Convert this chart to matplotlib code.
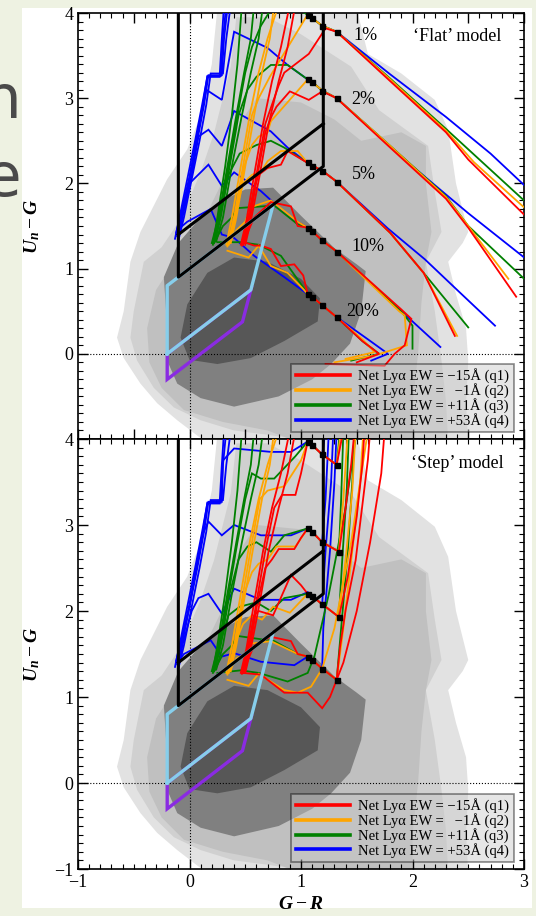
import numpy as np
import matplotlib.pyplot as plt
from matplotlib.patches import Polygon, Rectangle
from matplotlib.lines import Line2D
from matplotlib.ticker import MultipleLocator

plt.rcParams.update({
    "font.family": "Liberation Serif",
    "mathtext.fontset": "custom",
    "mathtext.rm": "Liberation Serif",
    "mathtext.it": "Liberation Serif:italic:bold",
    "mathtext.bf": "Liberation Serif:bold",
    "xtick.direction": "in", "ytick.direction": "in",
    "xtick.top": True, "ytick.right": True,
    "xtick.major.size": 7, "ytick.major.size": 7,
    "xtick.minor.size": 3.5, "ytick.minor.size": 3.5,
    "xtick.major.width": 1.0, "ytick.major.width": 1.0,
    "xtick.minor.width": 0.8, "ytick.minor.width": 0.8,
    "axes.linewidth": 1.2,
})

# ---- density contours of the photometric sample (G-R, Un-G) ----
LEVEL_COLORS = ["#e2e2e2", "#d0d0d0", "#c0c0c0", "#808080", "#575757"]
C1_X = [0.25, 0.2, 0.1, -0.02, -0.2, -0.32, -0.44, -0.53, -0.59, -0.65, -0.59, -0.44, -0.29, -0.11, 0.04, 0.16,
        2.5, 2.48, 2.5, 2.48, 2.39, 2.32, 2.45, 2.5, 2.39, 2.32, 2.2, 1.9, 1.6, 1.5]
C1_Y = [4.05, 3.4, 2.8, 2.4, 2.05, 1.74, 1.43, 1.08, 0.5, 0.19, -0.05, -0.35, -0.58, -0.78, -0.93, -1.05,
        -1.05, -0.58, -0.08, 0.3, 0.7, 1.08, 1.3, 1.43, 2.0, 2.63, 2.98, 3.29, 3.52, 4.05]
C2_X = [0.42, 0.37, 0.22, 0.1, -0.08, -0.25, -0.41, -0.5, -0.53, -0.47, -0.32, -0.14, 0.1, 0.4, 0.7, 1.2,
        2.32, 2.3, 2.26, 2.2, 2.12, 2.26, 2.2, 2.14, 1.7, 1.45, 1.0, 0.7]
C2_Y = [3.95, 3.37, 2.59, 2.13, 1.58, 1.25, 1.08, 0.5, 0.19, -0.08, -0.4, -0.63, -0.78, -0.9, -0.95, -1.05,
        -1.05, -0.55, -0.08, 0.5, 1.08, 1.43, 1.9, 2.44, 2.86, 3.37, 3.75, 3.95]
C3_X = [0.6, 0.4, 0.28, 0.1, -0.1, -0.3, -0.38, -0.36, -0.25, -0.05, 0.3, 0.7, 1.0, 2.0, 2.0, 2.05, 2.08,
        2.12, 2.17, 2.12, 2.12, 1.9, 1.54, 1.3, 1.0]
C3_Y = [3.0, 2.6, 1.98, 1.5, 1.15, 0.75, 0.3, -0.1, -0.4, -0.66, -0.8, -0.9, -1.05, -1.05, -0.6, 0.0, 0.6,
        1.08, 1.43, 2.0, 2.44, 2.6, 2.5, 2.75, 2.95]
C4_X = [-0.23, -0.1, 0.1, 0.3, 0.5, 0.75, 1.0, 1.3, 1.5, 1.58, 1.54, 1.44, 1.27, 1.1, 0.8, 0.4, 0.1, -0.11,
        -0.2, -0.21]
C4_Y = [0.9, 1.3, 1.6, 1.8, 1.93, 1.95, 1.62, 1.24, 1.05, 0.97, 0.5, 0.12, -0.12, -0.3, -0.5, -0.62, -0.52,
        -0.35, -0.08, 0.5]
C5_X = [0.16, 0.4, 0.7, 1.0, 1.17, 1.15, 0.85, 0.55, 0.25, 0.0, -0.08, -0.02]
C5_Y = [0.95, 1.13, 1.08, 0.88, 0.65, 0.38, 0.15, -0.05, -0.12, -0.07, 0.19, 0.58]

# ---- colour-selection windows ----
LBG_X = [-0.1, -0.1, 1.2, 1.2]
LBG_Y = [4.1, 0.9, 2.2, 4.1]
LBG_CUT_X = [-0.1, 1.2]
LBG_CUT_Y = [1.4, 2.7]
BX_X = [-0.2, 0.55, 0.75, -0.2, -0.2]
BX_Y = [0.0, 0.75, 1.75, 0.8, 0.0]
BM_X = [-0.2, -0.2, 0.475, 0.55, -0.2]
BM_Y = [0.0, -0.3, 0.375, 0.75, 0.0]

# ---- redshift markers (black squares) ----
SQ_X = [1.06, 1.1, 1.19, 1.32]
FLAT_SQ_Y = [[3.98, 3.94, 3.85, 3.78], [3.22, 3.19, 3.09, 3.0], [2.25, 2.21, 2.15, 2.02],
             [1.48, 1.44, 1.33, 1.2], [0.7, 0.67, 0.57, 0.43]]
STEP_SQ_X = [[1.06, 1.1, 1.19, 1.32], [1.06, 1.1, 1.19, 1.34], [1.06, 1.1, 1.19, 1.34], [1.06, 1.1, 1.19, 1.32]]
STEP_SQ_Y = [[3.97, 3.93, 3.82, 3.7], [2.96, 2.92, 2.8, 2.69], [2.2, 2.17, 2.08, 1.93], [1.47, 1.43, 1.33, 1.2]]

FRAC_LABELS = ["1%", "2%", "5%", "10%", "20%"]

# ---- bundles shared by both models ----
BUNDLE_BLUE = [([-0.13, -0.09, -0.02, 0.05, 0.11, 0.16, 0.27, 0.29, 0.31], [1.35, 1.6, 2.05, 2.5, 2.9, 3.25, 3.25, 3.7, 4.1]),
               ([-0.1, -0.05, 0.02, 0.09, 0.15, 0.19, 0.3, 0.33, 0.37], [1.33, 1.6, 2.05, 2.5, 2.92, 3.29, 3.29, 3.7, 4.1]),
               ([-0.12, -0.07, 0.0, 0.06, 0.12, 0.16, 0.28, 0.3, 0.33], [1.4, 1.62, 2.05, 2.5, 2.92, 3.26, 3.26, 3.7, 4.1])]
BUNDLE_GREEN = [([0.2, 0.26, 0.34, 0.42, 0.49, 0.55, 0.58], [1.3, 1.6, 2.2, 2.8, 3.3, 3.7, 4.1]),
                ([0.24, 0.3, 0.38, 0.47, 0.55, 0.62, 0.66], [1.32, 1.6, 2.2, 2.8, 3.3, 3.7, 4.1]),
                ([0.21, 0.25, 0.32, 0.38, 0.43, 0.47], [1.3, 1.6, 2.2, 2.8, 3.4, 4.1])]
BUNDLE_ORANGE = [([0.33, 0.38, 0.46, 0.54, 0.62, 0.7, 0.8], [1.28, 1.6, 2.2, 2.8, 3.3, 3.7, 4.1]),
                 ([0.37, 0.42, 0.5, 0.58, 0.65, 0.72, 0.76], [1.3, 1.6, 2.2, 2.8, 3.3, 3.7, 4.1])]
BUNDLE_RED = [([0.46, 0.51, 0.58, 0.66, 0.74, 0.82, 0.9], [1.28, 1.56, 2.1, 2.7, 3.2, 3.6, 4.1]),
              ([0.5, 0.55, 0.63, 0.71, 0.8, 0.88, 0.95], [1.28, 1.56, 2.1, 2.7, 3.2, 3.6, 4.1])]

# ---- 'Flat' model tracks (1%, 2%, 5%, 10%, 20%) ----
FLAT_BLUE = [
    ([-0.11, -0.07, 0.0, 0.07, 0.13, 0.17, 0.29, 0.31, 0.34, 0.6, 0.98, 1.06, 1.1, 1.19, 1.32, 1.8, 2.3, 2.7, 3.05],
     [1.38, 1.6, 2.05, 2.5, 2.92, 3.27, 3.27, 3.7, 4.05, 4.6, 4.1, 3.98, 3.94, 3.85, 3.78, 3.28, 2.78, 2.35, 1.92]),
    ([-0.12, -0.08, 0.0, 0.07, 0.12, 0.15, 0.29, 0.4, 0.7, 0.88, 1.06, 1.1, 1.19, 1.32, 2.0, 2.5, 3.05],
     [1.42, 1.62, 2.08, 2.55, 2.9, 3.1, 2.98, 3.78, 3.59, 3.39, 3.22, 3.19, 3.09, 3.0, 2.2, 1.65, 1.08]),
    ([-0.1, -0.06, 0.02, 0.08, 0.17, 0.29, 0.4, 0.73, 0.88, 1.06, 1.1, 1.19, 1.32, 1.78, 2.11, 2.4, 2.74],
     [1.36, 1.62, 2.1, 2.55, 2.63, 2.44, 2.85, 2.61, 2.42, 2.24, 2.21, 2.15, 2.02, 1.47, 1.11, 0.75, 0.33]),
    ([-0.11, -0.06, 0.0, 0.17, 0.29, 0.4, 0.64, 0.9, 1.06, 1.1, 1.19, 1.32, 1.8, 2.25],
     [1.4, 1.65, 2.0, 2.22, 1.97, 2.13, 1.91, 1.6, 1.48, 1.44, 1.33, 1.2, 0.62, 0.08]),
    ([-0.11, -0.02, 0.19, 0.29, 0.4, 0.58, 0.85, 1.06, 1.1, 1.19, 1.32, 1.6, 1.78, 1.63],
     [1.45, 1.55, 1.7, 1.4, 1.36, 1.15, 0.9, 0.7, 0.67, 0.57, 0.43, 0.17, 0.0, -0.08]),
]
FLAT_GREEN = [
    ([0.22, 0.27, 0.35, 0.43, 0.5, 0.56, 0.64, 0.72, 0.95, 1.06, 1.1, 1.19, 1.32, 1.8, 2.3, 2.6, 3.05],
     [1.3, 1.6, 2.2, 2.8, 3.3, 3.6, 3.85, 4.02, 4.06, 3.98, 3.94, 3.85, 3.78, 3.23, 2.64, 2.28, 1.74]),
    ([0.23, 0.28, 0.36, 0.44, 0.52, 0.6, 0.73, 0.88, 1.06, 1.1, 1.19, 1.32, 1.8, 2.3, 2.5, 3.05],
     [1.32, 1.6, 2.2, 2.8, 3.1, 3.25, 3.39, 3.39, 3.22, 3.19, 3.09, 3.0, 2.44, 1.85, 1.5, 0.82]),
    ([0.21, 0.27, 0.35, 0.45, 0.6, 0.73, 0.85, 1.06, 1.1, 1.19, 1.32, 1.8, 2.1, 2.5],
     [1.28, 1.6, 2.1, 2.35, 2.45, 2.5, 2.42, 2.24, 2.21, 2.15, 2.02, 1.42, 0.95, 0.31]),
    ([0.22, 0.3, 0.38, 0.43, 0.76, 0.97, 1.06, 1.1, 1.19, 1.32, 1.9, 2.0, 2.0],
     [1.3, 1.5, 1.6, 1.71, 1.74, 1.52, 1.48, 1.44, 1.33, 1.2, 0.5, 0.33, 0.06]),
    ([0.25, 0.46, 0.62, 0.82, 1.02, 1.06, 1.1, 1.19, 1.32, 1.55, 1.7, 1.45],
     [1.31, 1.31, 1.28, 1.15, 0.78, 0.7, 0.67, 0.57, 0.43, 0.15, 0.0, -0.08]),
]
FLAT_ORANGE = [
    ([0.35, 0.4, 0.48, 0.56, 0.62, 0.66, 0.72, 1.04, 1.06, 1.1, 1.19, 1.32, 1.8, 2.3, 2.55, 3.05],
     [1.28, 1.6, 2.2, 2.8, 3.0, 3.1, 3.25, 3.94, 3.98, 3.94, 3.85, 3.78, 3.22, 2.62, 2.25, 1.66]),
    ([0.36, 0.41, 0.49, 0.56, 0.62, 0.7, 0.73, 1.06, 1.1, 1.19, 1.32, 1.8, 2.3, 2.5, 2.86],
     [1.3, 1.6, 2.2, 2.45, 2.55, 2.6, 2.73, 3.22, 3.19, 3.09, 3.0, 2.44, 1.84, 1.5, 0.88]),
    ([0.34, 0.4, 0.48, 0.56, 0.65, 0.7, 0.82, 0.97, 1.06, 1.1, 1.19, 1.32, 1.8, 2.1, 2.4],
     [1.26, 1.6, 2.0, 2.1, 2.15, 2.26, 2.38, 2.38, 2.24, 2.21, 2.15, 2.02, 1.42, 0.95, 0.21]),
    ([0.35, 0.42, 0.5, 0.55, 0.73, 0.97, 1.06, 1.1, 1.19, 1.32, 1.88, 1.93, 1.95, 1.66, 1.3],
     [1.28, 1.45, 1.55, 1.72, 1.8, 1.55, 1.48, 1.44, 1.33, 1.2, 0.5, 0.45, 0.1, -0.02, -0.1]),
    ([0.34, 0.53, 0.62, 0.73, 0.88, 1.02, 1.06, 1.1, 1.19, 1.32, 1.55, 1.66, 1.4],
     [1.21, 1.13, 1.27, 1.03, 0.95, 0.76, 0.7, 0.67, 0.57, 0.43, 0.17, 0.02, -0.06]),
]
FLAT_RED = [
    ([0.48, 0.53, 0.6, 0.68, 0.76, 0.8, 0.85, 1.07, 1.22, 1.32, 1.8, 2.3, 2.5, 3.05],
     [1.28, 1.56, 2.1, 2.7, 3.0, 3.15, 3.3, 3.52, 3.82, 3.78, 3.2, 2.6, 2.28, 1.57]),
    ([0.49, 0.54, 0.61, 0.68, 0.74, 0.78, 0.9, 1.07, 1.19, 1.32, 1.8, 2.3, 2.5, 2.93],
     [1.3, 1.56, 2.1, 2.6, 2.8, 2.9, 3.08, 2.98, 3.08, 3.0, 2.42, 1.82, 1.48, 0.67]),
    ([0.47, 0.52, 0.58, 0.62, 0.7, 0.82, 0.88, 1.06, 1.1, 1.19, 1.32, 1.8, 2.1, 2.38],
     [1.27, 1.56, 1.95, 2.1, 2.18, 2.22, 2.38, 2.24, 2.21, 2.15, 2.02, 1.42, 0.95, 0.21]),
    ([0.48, 0.53, 0.58, 0.73, 0.91, 0.97, 1.06, 1.1, 1.19, 1.32, 1.9, 1.99, 1.93, 1.84, 1.75, 1.22],
     [1.28, 1.45, 1.6, 1.78, 1.73, 1.5, 1.48, 1.44, 1.33, 1.2, 0.52, 0.41, 0.1, 0.0, -0.14, -0.12]),
    ([0.49, 0.58, 0.64, 0.73, 0.82, 0.94, 1.02, 1.06, 1.1, 1.19, 1.32, 1.55, 1.7, 1.5],
     [1.31, 1.27, 1.27, 1.23, 1.03, 1.05, 0.92, 0.7, 0.67, 0.57, 0.43, 0.15, 0.0, -0.1]),
]

# ---- 'Step' model tracks ----
STEP_BLUE = [
    ([-0.11, -0.07, 0.0, 0.07, 0.13, 0.17, 0.29, 0.3, 0.4, 0.73, 0.91, 1.06, 1.1, 1.19, 1.22],
     [1.38, 1.6, 2.05, 2.5, 2.92, 3.27, 3.27, 3.75, 3.89, 3.85, 3.85, 3.97, 3.93, 3.82, 4.1]),
    ([-0.12, -0.08, 0.0, 0.07, 0.12, 0.17, 0.29, 0.4, 0.64, 0.91, 1.06, 1.1, 1.19, 1.22, 1.25],
     [1.42, 1.62, 2.08, 2.55, 2.9, 3.04, 2.88, 3.0, 2.88, 2.88, 2.96, 2.92, 2.8, 3.3, 4.1]),
    ([-0.1, -0.06, 0.02, 0.08, 0.17, 0.29, 0.4, 0.64, 0.91, 1.06, 1.1, 1.19, 1.22, 1.27, 1.29],
     [1.36, 1.62, 2.0, 2.15, 2.2, 1.97, 2.26, 2.13, 2.13, 2.22, 2.17, 2.08, 2.7, 3.5, 4.1]),
    ([-0.11, -0.05, 0.19, 0.29, 0.4, 0.64, 0.94, 1.06, 1.1, 1.19, 1.2, 1.26, 1.3, 1.32],
     [1.4, 1.5, 1.66, 1.47, 1.51, 1.41, 1.37, 1.47, 1.43, 1.33, 1.8, 2.7, 3.5, 4.1]),
]
STEP_GREEN = [
    ([0.22, 0.27, 0.35, 0.43, 0.5, 0.56, 0.64, 0.76, 0.95, 1.06, 1.1, 1.19, 1.32, 1.35],
     [1.3, 1.6, 2.2, 2.8, 3.3, 3.6, 3.54, 3.54, 3.8, 3.97, 3.93, 3.82, 3.7, 4.1]),
    ([0.23, 0.28, 0.36, 0.44, 0.52, 0.6, 0.73, 0.85, 1.06, 1.1, 1.19, 1.34, 1.36, 1.38],
     [1.32, 1.6, 2.2, 2.6, 2.75, 2.8, 2.69, 2.88, 2.96, 2.92, 2.8, 2.69, 3.3, 4.1]),
    ([0.21, 0.27, 0.35, 0.45, 0.6, 0.73, 0.85, 1.06, 1.1, 1.19, 1.34, 1.37, 1.41, 1.43],
     [1.28, 1.6, 1.95, 2.05, 2.1, 2.0, 2.15, 2.2, 2.17, 2.08, 1.93, 2.6, 3.4, 4.1]),
    ([0.22, 0.3, 0.38, 0.43, 0.76, 0.97, 1.06, 1.1, 1.19, 1.32, 1.36, 1.42, 1.46, 1.48],
     [1.3, 1.5, 1.6, 1.71, 1.65, 1.5, 1.47, 1.43, 1.33, 1.2, 1.8, 2.7, 3.5, 4.1]),
    ([0.25, 0.46, 0.62, 0.88, 1.06, 1.12, 1.25, 1.4, 1.5],
     [1.28, 1.31, 1.28, 1.18, 1.28, 1.47, 2.2, 3.2, 4.1]),
]
STEP_ORANGE = [
    ([0.35, 0.4, 0.48, 0.56, 0.63, 0.7, 0.85, 1.0, 1.06, 1.1, 1.19, 1.32, 1.36],
     [1.28, 1.6, 2.2, 2.8, 3.3, 3.4, 3.45, 3.75, 3.97, 3.93, 3.82, 3.7, 4.1]),
    ([0.36, 0.41, 0.49, 0.56, 0.62, 0.7, 0.78, 0.95, 1.06, 1.1, 1.19, 1.34, 1.38, 1.42],
     [1.3, 1.6, 2.2, 2.45, 2.55, 2.6, 2.75, 2.75, 2.96, 2.92, 2.8, 2.69, 3.3, 4.1]),
    ([0.34, 0.4, 0.48, 0.56, 0.65, 0.75, 0.9, 1.06, 1.1, 1.19, 1.34, 1.4, 1.46, 1.49],
     [1.26, 1.6, 1.85, 1.95, 1.9, 2.05, 1.98, 2.2, 2.17, 2.08, 1.93, 2.6, 3.4, 4.1]),
    ([0.35, 0.42, 0.5, 0.55, 0.73, 0.97, 1.06, 1.1, 1.19, 1.32, 1.38, 1.46, 1.53, 1.56],
     [1.28, 1.45, 1.5, 1.62, 1.65, 1.5, 1.47, 1.43, 1.33, 1.2, 1.8, 2.7, 3.5, 4.1]),
    ([0.34, 0.53, 0.62, 0.85, 0.97, 1.09, 1.19, 1.3, 1.45, 1.6],
     [1.2, 1.13, 1.27, 1.08, 1.05, 1.12, 1.33, 1.8, 2.8, 4.1]),
]
STEP_RED = [
    ([0.48, 0.53, 0.6, 0.68, 0.76, 0.83, 0.95, 1.0, 1.06, 1.1, 1.19, 1.32, 1.38],
     [1.28, 1.56, 2.1, 2.7, 3.2, 3.35, 3.35, 3.6, 3.97, 3.93, 3.82, 3.7, 4.1]),
    ([0.49, 0.54, 0.61, 0.68, 0.74, 0.8, 0.94, 1.0, 1.06, 1.1, 1.19, 1.34, 1.4, 1.45, 1.48],
     [1.3, 1.56, 2.1, 2.5, 2.6, 2.72, 2.72, 2.85, 2.96, 2.92, 2.8, 2.69, 3.2, 3.7, 4.1]),
    ([0.47, 0.52, 0.58, 0.62, 0.75, 0.91, 1.0, 1.06, 1.1, 1.19, 1.34, 1.42, 1.5, 1.55, 1.57],
     [1.27, 1.56, 1.95, 2.0, 1.95, 2.42, 2.3, 2.2, 2.17, 2.08, 1.93, 2.4, 3.1, 3.7, 4.1]),
    ([0.48, 0.53, 0.58, 0.73, 0.91, 0.97, 1.06, 1.1, 1.19, 1.32, 1.35, 1.4, 1.49, 1.6, 1.62],
     [1.28, 1.45, 1.6, 1.7, 1.65, 1.5, 1.47, 1.43, 1.33, 1.2, 1.58, 2.01, 2.59, 3.76, 4.1]),
    ([0.48, 0.64, 0.85, 1.06, 1.19, 1.26, 1.38, 1.5, 1.62, 1.72, 1.75],
     [1.28, 1.26, 1.05, 1.05, 0.87, 1.0, 1.4, 2.0, 2.8, 3.6, 4.1]),
]

LEGEND_LABELS = ["Net Ly\u03b1 EW = \u221215\u00c5 (q1)", "Net Ly\u03b1 EW =   \u22121\u00c5 (q2)",
                 "Net Ly\u03b1 EW = +11\u00c5 (q3)", "Net Ly\u03b1 EW = +53\u00c5 (q4)"]
TRACK_COLORS = ["red", "orange", "green", "blue"]

W, H = 536, 916
fig = plt.figure(figsize=(W / 100, H / 100), dpi=100)
fig.patch.set_facecolor("#eef2e2")
fig.text(21 / W, 1 - 118 / H, "n", ha="right", va="baseline", fontsize=44,
         color="#4a4a4a", family="DejaVu Sans", zorder=-3)
fig.text(21 / W, 1 - 196 / H, "e", ha="right", va="baseline", fontsize=44,
         color="#4a4a4a", family="DejaVu Sans", zorder=-3)
fig.add_artist(Rectangle((22 / W, 1 - 908 / H), 510 / W, 900 / H, transform=fig.transFigure,
                         facecolor="white", edgecolor="none", zorder=-2))

ax1 = fig.add_axes([78 / W, 1 - 439 / H, 446 / W, 426 / H])
ax2 = fig.add_axes([78 / W, 1 - 869 / H, 446 / W, 430 / H])


def draw_panel(ax, tracks, squares_x, squares_y, model):
    for col, cx, cy in zip(LEVEL_COLORS, [C1_X, C2_X, C3_X, C4_X, C5_X], [C1_Y, C2_Y, C3_Y, C4_Y, C5_Y]):
        ax.add_patch(Polygon(np.column_stack([cx, cy]), closed=True, facecolor=col,
                             edgecolor="none", zorder=1))
    ax.axhline(0, color="black", ls=":", lw=0.8, zorder=2)
    ax.axvline(0, color="black", ls=":", lw=0.8, zorder=2)

    bundles = {"blue": BUNDLE_BLUE, "green": BUNDLE_GREEN, "orange": BUNDLE_ORANGE, "red": BUNDLE_RED}
    for col in ["blue", "green", "orange", "red"]:
        for xs, ys in bundles[col] + tracks[col]:
            ax.plot(xs, ys, color=col, lw=1.3, zorder=3, solid_joinstyle="miter")

    ax.fill(BM_X, BM_Y, facecolor="none", edgecolor="#8a2be2", lw=2.4, zorder=4)
    ax.plot(BX_X, BX_Y, color="#87ceeb", lw=2.4, zorder=4)
    ax.plot(LBG_X, LBG_Y, color="black", lw=2.2, zorder=5)
    ax.plot(LBG_CUT_X, LBG_CUT_Y, color="black", lw=2.2, zorder=5)

    for sx, sy in zip(squares_x, squares_y):
        ax.plot(sx, sy, ls="none", marker="s", ms=3.6, color="black", zorder=6)

    ax.text(2.4, 3.72, model, ha="center", va="center", fontsize=13, zorder=7)

    handles = [Line2D([], [], color=c, lw=2.6) for c in TRACK_COLORS]
    leg = ax.legend(handles, LEGEND_LABELS, loc="lower right", bbox_to_anchor=(0.977, 0.016),
                    borderaxespad=0, fontsize=10.5, labelspacing=0.0, handlelength=3.7,
                    handletextpad=0.6, borderpad=0.3, fancybox=False, framealpha=0.45,
                    facecolor="#c8c8c8", edgecolor="black")
    leg.get_frame().set_linewidth(1.2)
    leg.set_zorder(8)

    ax.set_xlim(-1, 3)
    ax.set_ylim(-1, 4)
    ax.xaxis.set_minor_locator(MultipleLocator(0.1))
    ax.yaxis.set_minor_locator(MultipleLocator(0.1))
    ax.tick_params(which="both", labelsize=13)
    ax.set_ylabel(r"$U_n - G$", fontsize=14)
    ax.yaxis.set_label_coords(-0.08, 0.5)


flat_tracks = {"blue": FLAT_BLUE, "green": FLAT_GREEN, "orange": FLAT_ORANGE, "red": FLAT_RED}
step_tracks = {"blue": STEP_BLUE, "green": STEP_GREEN, "orange": STEP_ORANGE, "red": STEP_RED}

draw_panel(ax1, flat_tracks, [SQ_X] * 5, FLAT_SQ_Y, "\u2018Flat\u2019 model")
draw_panel(ax2, step_tracks, STEP_SQ_X, STEP_SQ_Y, "\u2018Step\u2019 model")

frac_pos = [(1.58, 3.74), (1.56, 2.98), (1.56, 2.1), (1.6, 1.26), (1.55, 0.5)]
for lbl, (tx, ty) in zip(FRAC_LABELS, frac_pos):
    ax1.text(tx, ty, lbl, ha="center", va="center", fontsize=13, zorder=7)

ax1.set_yticks([0, 1, 2, 3, 4])
ax1.tick_params(labelbottom=False)
ax2.set_yticks([-1, 0, 1, 2, 3, 4])
ax2.set_xticks([-1, 0, 1, 2, 3])
ax2.set_xlabel(r"$G - R$", fontsize=14)
ax2.xaxis.set_label_coords(0.5, -0.062)

fig.savefig("out.png", dpi=100, facecolor=fig.get_facecolor())
